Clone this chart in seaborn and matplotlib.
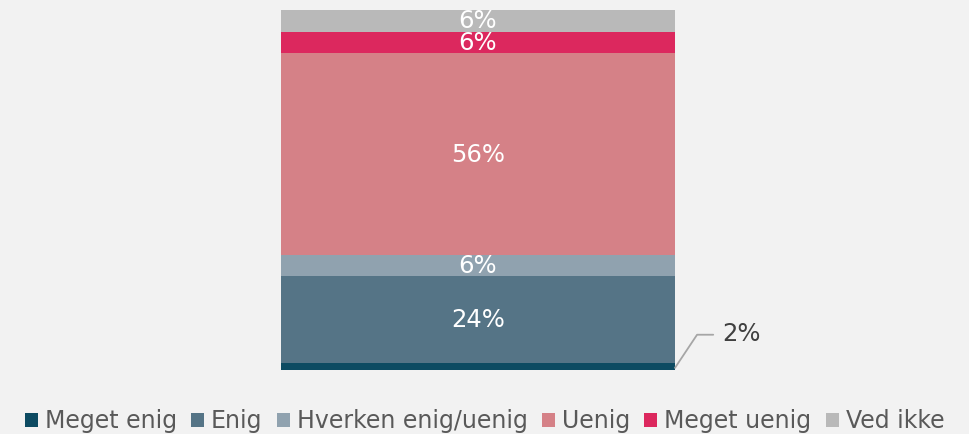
import numpy as np
import pandas as pd
import seaborn as sns
import matplotlib.pyplot as plt
from matplotlib.patches import Patch

# answer categories, bottom to top
categories = ['Meget enig', 'Enig', 'Hverken enig/uenig', 'Uenig', 'Meget uenig', 'Ved ikke']
shares = [2, 24, 6, 56, 6, 6]
colors = ['#0d4b62', '#557486', '#90a2af', '#d58187', '#dc285e', '#b9b9b9']

bg = '#f2f2f2'
sns.set_theme(style='white')
plt.rcParams['font.family'] = ['DejaVu Sans']

fig = plt.figure(figsize=(9.69, 4.34), dpi=100, facecolor=bg)
ax = fig.add_axes([281 / 969, 64 / 434, 394 / 969, 360 / 434])
ax.set_facecolor(bg)

# stacked bar: draw cumulative totals from the top layer down
tops = np.cumsum(shares)
for i in range(len(categories) - 1, -1, -1):
    df = pd.DataFrame({'grp': ['x'], 'val': [tops[i]]})
    sns.barplot(data=df, x='grp', y='val', color=colors[i], width=1.0,
                saturation=1, ax=ax, linewidth=0)

ax.set_xlim(-0.5, 0.5)
ax.set_ylim(0, 100)
ax.axis('off')

# value labels inside the segments
bottoms = tops - np.array(shares)
for i, v in enumerate(shares):
    mid = bottoms[i] + v / 2
    if v >= 5:
        ax.text(0, mid + 0.5, f'{v}%', ha='center', va='center_baseline', color='white',
                fontsize=17.5)

# leader line for the thin bottom segment
ax.plot([0.5, 0.556, 0.597], [0.6, 9.8, 9.8], color='#a6a6a6', lw=1.3, clip_on=False)
ax.text(0.62, 10.8, f'{shares[0]}%', ha='left', va='center_baseline', color='#404040',
        fontsize=17.5, clip_on=False)

handles = [Patch(facecolor=c, edgecolor='none') for c in colors]
fig.legend(handles, categories, loc='center', bbox_to_anchor=(0.5, 1 - 421 / 434),
           ncol=6, frameon=False, fontsize=17, handlelength=0.55, handleheight=0.55,
           handletextpad=0.3, columnspacing=0.6, labelcolor='#595959',
           borderpad=0, borderaxespad=0)

fig.savefig('out.png', dpi=100, facecolor=bg)
